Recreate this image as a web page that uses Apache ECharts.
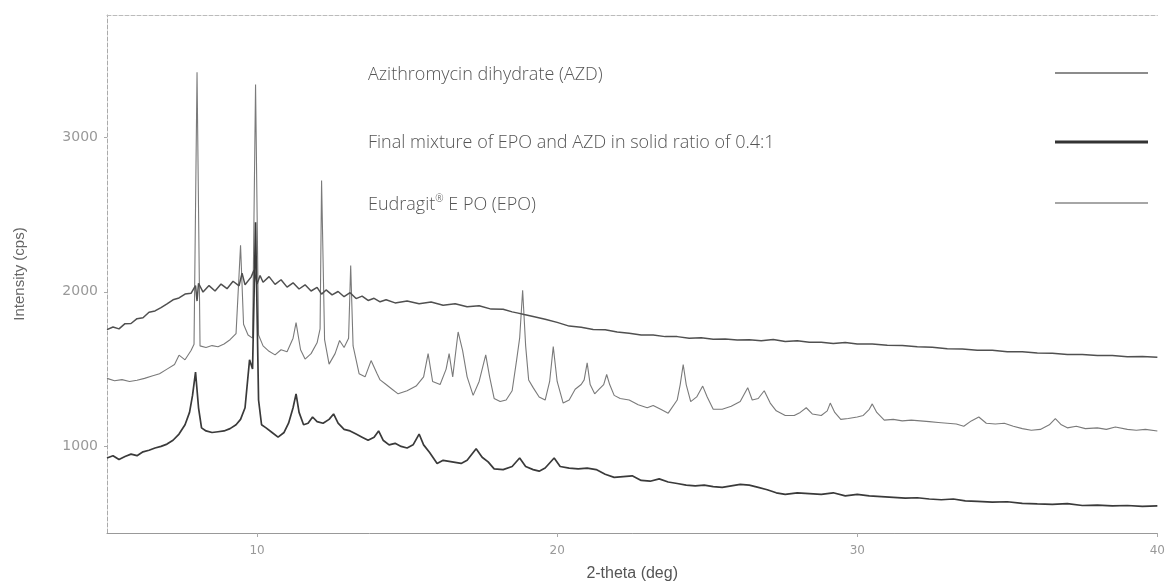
<!DOCTYPE html>
<html>
<head>
<meta charset="utf-8">
<script src="https://cdn.jsdelivr.net/npm/echarts@6/dist/echarts.min.js"></script>
<style>
  html, body { margin: 0; padding: 0; background: #fff; }
  #chart { width: 1168px; height: 587px; }
</style>
</head>
<body>
<div id="chart"></div>
<script>
// Axis tick values
const thetaTicks = [10, 20, 30, 40];
const intensityTicks = [1000, 2000, 3000];

const nameAZD = 'Azithromycin dihydrate (AZD)';
const nameMix = 'Final mixture of EPO and AZD in solid ratio of 0.4:1';
const nameEPO = 'Eudragit® E PO (EPO)';

// XRD scans: [2-theta (deg), intensity (cps)]
const azdScan = [
  [5.0,1440],[5.25,1425],[5.5,1432],[5.75,1420],[6.0,1428],[6.25,1440],[6.5,1455],[6.75,1470],
  [7.0,1500],[7.25,1530],[7.4,1590],[7.6,1560],[7.8,1620],[7.9,1660],[8.0,3420],[8.1,1650],
  [8.3,1640],[8.5,1652],[8.7,1645],[8.9,1662],[9.1,1690],[9.3,1730],[9.45,2300],[9.55,1790],
  [9.7,1720],[9.85,1700],[9.95,3340],[10.05,1720],[10.2,1650],[10.4,1615],[10.6,1592],[10.8,1625],
  [11.0,1612],[11.2,1700],[11.3,1800],[11.45,1625],[11.6,1565],[11.8,1600],[12.0,1670],[12.1,1760],
  [12.15,2720],[12.25,1690],[12.4,1532],[12.6,1600],[12.75,1685],[12.9,1640],[13.05,1700],[13.12,2170],
  [13.2,1650],[13.4,1470],[13.6,1450],[13.8,1555],[14.0,1470],[14.1,1430],[14.3,1400],[14.5,1370],
  [14.7,1340],[15.0,1360],[15.3,1390],[15.55,1450],[15.7,1600],[15.85,1420],[16.1,1400],[16.3,1500],
  [16.4,1600],[16.52,1450],[16.7,1740],[16.85,1620],[17.0,1450],[17.2,1330],[17.4,1420],[17.62,1592],
  [17.75,1450],[17.9,1310],[18.1,1290],[18.3,1300],[18.5,1360],[18.65,1560],[18.75,1700],[18.85,2010],
  [18.95,1650],[19.05,1430],[19.2,1380],[19.4,1320],[19.6,1300],[19.75,1420],[19.87,1645],[20.0,1420],
  [20.2,1280],[20.4,1300],[20.6,1370],[20.8,1400],[20.9,1430],[21.0,1540],[21.1,1400],[21.25,1340],
  [21.4,1370],[21.55,1400],[21.65,1465],[21.75,1400],[21.9,1330],[22.1,1310],[22.4,1300],[22.7,1270],
  [23.0,1250],[23.2,1265],[23.45,1240],[23.7,1215],[24.0,1300],[24.1,1400],[24.2,1530],[24.3,1400],
  [24.45,1290],[24.65,1320],[24.85,1390],[25.0,1320],[25.2,1240],[25.5,1240],[25.8,1260],[26.1,1290],
  [26.35,1380],[26.5,1300],[26.7,1310],[26.9,1360],[27.1,1280],[27.3,1230],[27.6,1200],[27.9,1200],
  [28.1,1220],[28.3,1250],[28.5,1210],[28.8,1200],[29.0,1230],[29.1,1280],[29.25,1220],[29.45,1175],
  [29.7,1180],[30.0,1190],[30.2,1200],[30.4,1240],[30.5,1275],[30.65,1220],[30.9,1170],[31.2,1175],
  [31.5,1165],[31.8,1170],[32.1,1165],[32.4,1160],[32.7,1155],[33.0,1150],[33.3,1145],[33.55,1130],
  [33.8,1165],[34.05,1190],[34.3,1150],[34.6,1145],[34.9,1150],[35.2,1130],[35.5,1115],[35.8,1105],
  [36.1,1110],[36.4,1140],[36.6,1180],[36.8,1140],[37.0,1120],[37.3,1130],[37.6,1115],[38.0,1120],
  [38.3,1110],[38.6,1125],[39.0,1110],[39.3,1105],[39.6,1110],[40.0,1100]
];

const mixScan = [
  [5.0,925],[5.2,940],[5.4,915],[5.6,935],[5.8,950],[6.0,940],[6.2,965],[6.4,975],[6.6,990],
  [6.8,1000],[7.0,1015],[7.2,1040],[7.4,1080],[7.6,1140],[7.75,1220],[7.85,1330],[7.95,1480],
  [8.05,1250],[8.15,1120],[8.3,1100],[8.5,1090],[8.7,1095],[8.9,1100],[9.1,1115],[9.3,1140],
  [9.45,1175],[9.6,1250],[9.75,1560],[9.85,1500],[9.95,2450],[10.05,1300],[10.15,1140],[10.3,1120],
  [10.5,1090],[10.7,1060],[10.9,1090],[11.05,1150],[11.2,1250],[11.3,1340],[11.4,1220],[11.55,1140],
  [11.7,1150],[11.85,1190],[12.0,1160],[12.2,1150],[12.4,1175],[12.55,1210],[12.7,1150],[12.9,1110],
  [13.1,1100],[13.3,1080],[13.5,1060],[13.7,1040],[13.9,1060],[14.05,1100],[14.2,1040],[14.4,1010],
  [14.6,1020],[14.8,1000],[15.0,990],[15.2,1010],[15.4,1080],[15.55,1010],[15.75,960],[16.0,890],
  [16.2,910],[16.5,900],[16.8,890],[17.0,910],[17.3,985],[17.5,930],[17.7,900],[17.9,855],
  [18.2,850],[18.5,870],[18.75,925],[18.95,870],[19.2,850],[19.4,840],[19.6,860],[19.9,925],
  [20.1,870],[20.4,860],[20.7,855],[21.0,860],[21.3,850],[21.6,820],[21.9,800],[22.2,805],
  [22.5,810],[22.8,780],[23.1,775],[23.4,790],[23.7,770],[24.0,760],[24.3,750],[24.6,745],
  [24.9,750],[25.2,740],[25.5,735],[25.8,745],[26.1,755],[26.4,750],[26.7,735],[27.0,720],
  [27.3,700],[27.6,690],[28.0,700],[28.4,695],[28.8,690],[29.2,700],[29.6,680],[30.0,690],
  [30.4,680],[30.8,675],[31.2,670],[31.6,665],[32.0,668],[32.4,660],[32.8,655],[33.2,660],
  [33.6,648],[34.0,645],[34.5,640],[35.0,642],[35.5,632],[36.0,628],[36.5,625],[37.0,630],
  [37.5,618],[38.0,620],[38.5,615],[39.0,618],[39.5,612],[40.0,615]
];

const epoScan = [
  [5.0,1755],[5.2,1772],[5.4,1760],[5.6,1794],[5.8,1795],[6.0,1826],[6.2,1832],[6.4,1868],
  [6.6,1876],[6.8,1898],[7.0,1922],[7.2,1948],[7.4,1960],[7.6,1985],[7.8,1990],[7.95,2040],
  [8.0,1940],[8.05,2055],[8.2,1998],[8.4,2040],[8.6,2005],[8.8,2050],[9.0,2020],[9.2,2068],
  [9.4,2038],[9.5,2120],[9.6,2045],[9.8,2095],[9.9,2140],[10.0,2050],[10.1,2105],[10.2,2062],
  [10.4,2098],[10.6,2048],[10.8,2078],[11.0,2030],[11.2,2058],[11.4,2018],[11.6,2045],[11.8,2005],
  [12.0,2028],[12.15,1985],[12.3,2012],[12.5,1980],[12.7,2002],[12.9,1968],[13.1,1994],[13.3,1956],
  [13.5,1972],[13.7,1944],[13.9,1958],[14.1,1935],[14.3,1948],[14.6,1928],[15.0,1940],[15.4,1922],
  [15.8,1934],[16.2,1913],[16.6,1922],[17.0,1903],[17.4,1910],[17.8,1888],[18.2,1887],[18.5,1870],
  [18.7,1862],[18.9,1853],[19.2,1840],[19.6,1823],[20.0,1802],[20.4,1778],[20.8,1770],[21.2,1756],
  [21.6,1754],[22.0,1740],[22.4,1732],[22.8,1720],[23.2,1720],[23.6,1710],[24.0,1710],[24.4,1700],
  [24.8,1702],[25.2,1693],[25.6,1694],[26.0,1688],[26.4,1690],[26.8,1684],[27.2,1692],[27.6,1678],
  [28.0,1684],[28.4,1674],[28.8,1674],[29.2,1666],[29.6,1672],[30.0,1662],[30.5,1662],[31.0,1654],
  [31.5,1652],[32.0,1644],[32.5,1642],[33.0,1632],[33.5,1630],[34.0,1622],[34.5,1622],[35.0,1612],
  [35.5,1612],[36.0,1604],[36.5,1602],[37.0,1594],[37.5,1594],[38.0,1588],[38.5,1588],[39.0,1580],
  [39.5,1582],[40.0,1576]
];

// Legend rows: text on the left, sample line on the right
const legendRows = [
  { name: nameAZD, textY: 75,  lineY: 73,  lineH: 1.5, lineColor: '#666' },
  { name: nameMix, textY: 143, lineY: 142, lineH: 3,   lineColor: '#333' },
  { name: nameEPO, textY: 205, lineY: 203, lineH: 1.5, lineColor: '#888' }
];

const legendText = {
  fontFamily: 'Open Sans', fontSize: 18, fontWeight: 300, color: '#555',
  rich: { sup: { fontFamily: 'Open Sans', fontSize: 10, fontWeight: 300, color: '#555', verticalAlign: 'top', padding: [0, 0, 12, 0] } }
};

const legends = [];
legendRows.forEach(function (row) {
  legends.push({
    data: [row.name], left: 363, top: row.textY - 12, padding: 0,
    icon: 'none', itemWidth: 0, itemHeight: 24, itemGap: 0,
    textStyle: legendText,
    formatter: function (n) { return n === nameEPO ? 'Eudragit{sup|®} E PO (EPO)' : n; }
  });
  legends.push({
    data: [row.name], left: 1055, top: row.lineY - row.lineH / 2, padding: 0,
    icon: 'rect', itemWidth: 93, itemHeight: row.lineH,
    itemStyle: { color: row.lineColor },
    formatter: function () { return ''; }
  });
});

const chart = echarts.init(document.getElementById('chart'), null, { renderer: 'canvas' });

chart.setOption({
  backgroundColor: '#fff',
  animation: false,
  grid: { left: 107, right: 0, top: 15, bottom: 50 },
  legend: legends,
  xAxis: [{
    type: 'value', min: 5, max: 40,
    name: '2-theta (deg)', nameLocation: 'middle', nameGap: 33,
    nameTextStyle: { fontFamily: 'Liberation Sans', fontSize: 16, color: '#555' },
    axisLine: { show: true, lineStyle: { color: '#999', width: 1 } },
    axisTick: { show: true, length: 4, customValues: thetaTicks, lineStyle: { color: '#aaa' } },
    axisLabel: {
      customValues: thetaTicks, fontFamily: 'DejaVu Sans', fontSize: 12, color: '#999', margin: 12,
      formatter: function (v) { return String(v); }
    },
    splitLine: { show: false }
  }, {
    type: 'value', min: 5, max: 40, position: 'top',
    axisLine: { show: true, lineStyle: { color: '#bbb', width: 1, type: [4, 2] } },
    axisTick: { show: false }, axisLabel: { show: false }, splitLine: { show: false }
  }],
  yAxis: {
    type: 'value', min: 440, max: 3790,
    name: 'Intensity (cps)', nameLocation: 'middle', nameGap: 80,
    nameTextStyle: { fontFamily: 'Liberation Sans', fontSize: 15, color: '#666' },
    axisLine: { show: true, lineStyle: { color: '#aaa', width: 1, type: [4, 2] } },
    axisTick: { show: true, length: 3, customValues: intensityTicks, lineStyle: { color: '#aaa' } },
    axisLabel: {
      customValues: intensityTicks, fontFamily: 'DejaVu Sans', fontSize: 14, color: '#999', margin: 9,
      formatter: function (v) { return String(v); }
    },
    splitLine: { show: false }
  },
  series: [
    {
      name: nameAZD, type: 'line', data: azdScan, symbol: 'none', z: 2,
      lineStyle: { color: '#7a7a7a', width: 1.1 }, itemStyle: { color: '#666' }
    },
    {
      name: nameEPO, type: 'line', data: epoScan, symbol: 'none', z: 3,
      lineStyle: { color: '#505050', width: 1.5 }, itemStyle: { color: '#888' }
    },
    {
      name: nameMix, type: 'line', data: mixScan, symbol: 'none', z: 4,
      lineStyle: { color: '#3a3a3a', width: 1.7 }, itemStyle: { color: '#333' }
    }
  ]
});
</script>
</body>
</html>
